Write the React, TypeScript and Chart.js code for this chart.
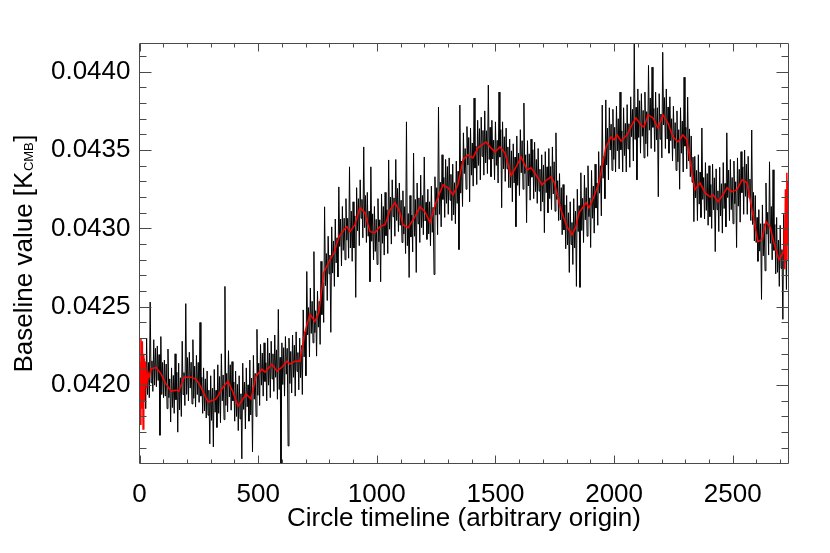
import React, { useEffect, useRef } from "react";
import { Chart, registerables } from "chart.js";

Chart.register(...registerables);

const FONT = "'Liberation Sans', Arial, Helvetica, sans-serif";

const xMin = 0;
const xMax = 2735;
const yMin = 0.0415;
const yMax = 0.04418;

const xMajorTicks = [0, 500, 1000, 1500, 2000, 2500];
const xMinorTicks = [100, 200, 300, 400, 600, 700, 800, 900, 1100, 1200, 1300, 1400, 1600, 1700, 1800, 1900, 2100, 2200, 2300, 2400, 2600, 2700];
const yMajorTicks = [0.042, 0.0425, 0.043, 0.0435, 0.044];
const yMinorTicks = [0.0416, 0.0417, 0.0418, 0.0419, 0.0421, 0.0422, 0.0423, 0.0424, 0.0426, 0.0427, 0.0428, 0.0429, 0.0431, 0.0432, 0.0433, 0.0434, 0.0436, 0.0437, 0.0438, 0.0439, 0.0441];

const xTitle = "Circle timeline (arbitrary origin)";
const yTitleMain = "Baseline value [K";
const yTitleSub = "CMB";
const yTitleEnd = "]";

// Smoothed baseline (red)
const redX = [
  0, 3, 6, 9, 12, 15, 18, 21, 25, 30, 35, 40,
  48, 70, 91, 112, 133, 154, 166, 188, 217, 238, 259, 289, 322, 352, 373, 394, 415, 428, 449, 470,
  491, 516, 529, 558, 579, 600, 622, 634, 655, 676, 697, 718, 739, 756, 777, 799, 820, 841, 862, 874,
  887, 908, 929, 950, 971, 992, 1013, 1035, 1056, 1077, 1098, 1110, 1132, 1161, 1182, 1203, 1224, 1249,
  1279, 1300, 1321, 1342, 1363, 1384, 1405, 1426, 1460, 1481, 1498, 1519, 1540, 1566, 1587, 1608, 1633,
  1650, 1671, 1696, 1717, 1734, 1747, 1776, 1801, 1823, 1839, 1852, 1882, 1894, 1915, 1936, 1966, 1987,
  2000, 2012, 2029, 2054, 2075, 2092, 2113, 2126, 2143, 2164, 2185, 2206, 2227, 2248, 2269, 2290, 2307,
  2328, 2341, 2362, 2383, 2404, 2417, 2438, 2459, 2476, 2497, 2518, 2539, 2560, 2585, 2606, 2623, 2640,
  2657, 2678, 2695, 2712,
  2716, 2719, 2722, 2725, 2728, 2731, 2734,
];
const redY = [
  0.04215, 0.04175, 0.0423, 0.04185, 0.04228, 0.04172, 0.0422, 0.0419, 0.04215, 0.04198, 0.04208, 0.04205,
  0.042102, 0.042114, 0.04207, 0.042006, 0.041962, 0.041968, 0.041962, 0.042051, 0.042051, 0.042038, 0.041987, 0.041892, 0.041911, 0.041987, 0.042025, 0.041955, 0.041866, 0.041892, 0.041943, 0.041911,
  0.042057, 0.042102, 0.042083, 0.042134, 0.042089, 0.042114, 0.042153, 0.042134, 0.042153, 0.042153, 0.042337, 0.042452, 0.042407, 0.042464, 0.042719, 0.042789, 0.042846, 0.042948, 0.042992, 0.043011,
  0.042979, 0.043024, 0.043132, 0.0431, 0.042979, 0.042973, 0.043011, 0.043024, 0.043119, 0.043164, 0.0431, 0.043024, 0.043005, 0.043075, 0.043138, 0.043107, 0.043037, 0.043164,
  0.043278, 0.043259, 0.043215, 0.043278, 0.043437, 0.043469, 0.04345, 0.043514, 0.043552, 0.043514, 0.043488, 0.04352, 0.043482, 0.043336, 0.043393, 0.043456, 0.043374,
  0.043387, 0.043342, 0.043278, 0.04331, 0.043329, 0.043297, 0.043119, 0.043011, 0.04296, 0.043011, 0.0431, 0.043164, 0.043132, 0.043202, 0.043291, 0.04352, 0.043584,
  0.043565, 0.043596, 0.043558, 0.043596, 0.04366, 0.043705, 0.04366, 0.043647, 0.043724, 0.043705, 0.043641, 0.043724, 0.043673, 0.043584, 0.043552, 0.043596, 0.043565,
  0.043355, 0.043247, 0.043291, 0.043228, 0.043202, 0.043215, 0.04317, 0.043215, 0.043259, 0.043234, 0.043247, 0.04331, 0.043291, 0.043088, 0.042916, 0.042929, 0.043043,
  0.043011, 0.042884, 0.042801, 0.042846,
  0.043, 0.04274, 0.04325, 0.0428, 0.043355, 0.0429, 0.0433,
];

// Raw baseline (black), read in bins of 15 units:
// upper excursion, inner low, inner high, lower excursion
const blackX = [
  0, 15, 30, 45, 60, 75, 90, 105, 120, 135,
  150, 165, 180, 195, 210, 225, 240, 255, 270, 285,
  300, 315, 330, 345, 360, 375, 390, 405, 420, 435,
  450, 465, 480, 495, 510, 525, 540, 555, 570, 585,
  600, 615, 630, 645, 660, 675, 690, 705, 720, 735,
  750, 765, 780, 795, 810, 825, 840, 855, 870, 885,
  900, 915, 930, 945, 960, 975, 990, 1005, 1020, 1035,
  1050, 1065, 1080, 1095, 1110, 1125, 1140, 1155, 1170, 1185,
  1200, 1215, 1230, 1245, 1260, 1275, 1290, 1305, 1320, 1335,
  1350, 1365, 1380, 1395, 1410, 1425, 1440, 1455, 1470, 1485,
  1500, 1515, 1530, 1545, 1560, 1575, 1590, 1605, 1620, 1635,
  1650, 1665, 1680, 1695, 1710, 1725, 1740, 1755, 1770, 1785,
  1800, 1815, 1830, 1845, 1860, 1875, 1890, 1905, 1920, 1935,
  1950, 1965, 1980, 1995, 2010, 2025, 2040, 2055, 2070, 2085,
  2100, 2115, 2130, 2145, 2160, 2175, 2190, 2205, 2220, 2235,
  2250, 2265, 2280, 2295, 2310, 2325, 2340, 2355, 2370, 2385,
  2400, 2415, 2430, 2445, 2460, 2475, 2490, 2505, 2520, 2535,
  2550, 2565, 2580, 2595, 2610, 2625, 2640, 2655, 2670, 2685,
  2700, 2715, 2730,
];
const blackHi = [
  0.04224, 0.04217, 0.0423, 0.04253, 0.04229, 0.04225, 0.04231, 0.04216, 0.04223, 0.04211,
  0.0422, 0.04214, 0.04228, 0.04252, 0.04221, 0.04229, 0.04219, 0.0424, 0.04211, 0.04209,
  0.04206, 0.0421, 0.04213, 0.0422, 0.04263, 0.04222, 0.04215, 0.04209, 0.04206, 0.04214,
  0.04211, 0.04216, 0.04219, 0.042356, 0.04226, 0.04227, 0.0423, 0.04228, 0.04232, 0.042483,
  0.04227, 0.04231, 0.0423, 0.04232, 0.04234, 0.0423, 0.04248, 0.042725, 0.04262, 0.042852,
  0.0426, 0.04279, 0.043138, 0.04295, 0.04301, 0.04306, 0.043265, 0.04314, 0.04319, 0.043393,
  0.04317, 0.04326, 0.04331, 0.04352, 0.04323, 0.043393, 0.04314, 0.04319, 0.04322, 0.04323,
  0.043437, 0.04331, 0.04344, 0.04329, 0.04324, 0.04368, 0.04321, 0.04348, 0.04329, 0.04334,
  0.043456, 0.04325, 0.04327, 0.04333, 0.043775, 0.04347, 0.04344, 0.04345, 0.04341, 0.04343,
  0.043787, 0.04361, 0.04365, 0.04364, 0.043832, 0.04369, 0.04371, 0.04375, 0.043915, 0.04369,
  0.04368, 0.04387, 0.04368, 0.04364, 0.04357, 0.04354, 0.04359, 0.04363, 0.0438, 0.04356,
  0.04357, 0.04355, 0.04351, 0.04347, 0.04349, 0.04351, 0.04352, 0.04361, 0.04335, 0.04328,
  0.04321, 0.04317, 0.04319, 0.04325, 0.043355, 0.04334, 0.0434, 0.04337, 0.04341, 0.04349,
  0.043787, 0.04382, 0.04377, 0.04376, 0.04378, 0.04387, 0.04377, 0.04379, 0.04384, 0.044182,
  0.04389, 0.04386, 0.04387, 0.04404, 0.044029, 0.04387, 0.04386, 0.044124, 0.04389, 0.04384,
  0.04378, 0.04375, 0.04377, 0.043965, 0.043838, 0.04359, 0.04346, 0.04347, 0.043641, 0.04342,
  0.0434, 0.04341, 0.04338, 0.04339, 0.04342, 0.04361, 0.04344, 0.04343, 0.04345, 0.04349,
  0.0435, 0.04346, 0.043628, 0.04321, 0.04312, 0.04315, 0.04329, 0.043425, 0.043374, 0.04307,
  0.04302, 0.04309, 0.04314,
];
const blackMidLo = [
  0.04191, 0.04196, 0.04194, 0.042015, 0.042, 0.04203, 0.04194, 0.04193, 0.04192, 0.041857,
  0.041907, 0.041842, 0.04194, 0.041941, 0.041981, 0.041916, 0.04194, 0.04193, 0.041835, 0.041808,
  0.041775, 0.041827, 0.04182, 0.0419, 0.04187, 0.041925, 0.0419, 0.0418, 0.041785, 0.041845,
  0.041862, 0.04181, 0.04191, 0.041935, 0.042, 0.042023, 0.042, 0.04204, 0.04205, 0.041972,
  0.042004, 0.04207, 0.04201, 0.04205, 0.042088, 0.042048, 0.04218, 0.04232, 0.04233, 0.042335,
  0.04237, 0.04245, 0.042635, 0.04271, 0.042715, 0.04278, 0.042885, 0.04286, 0.042925, 0.042875,
  0.042875, 0.042985, 0.043065, 0.043005, 0.04295, 0.042918, 0.042853, 0.042915, 0.042905, 0.042954,
  0.042995, 0.043075, 0.04305, 0.04302, 0.042964, 0.04289, 0.042945, 0.04295, 0.04303, 0.043005,
  0.043047, 0.042965, 0.042975, 0.043085, 0.04309, 0.043185, 0.04316, 0.04318, 0.043087, 0.04316,
  0.043225, 0.04335, 0.043405, 0.04334, 0.043385, 0.043402, 0.04346, 0.043418, 0.04344, 0.043443,
  0.043402, 0.043455, 0.04338, 0.04338, 0.04326, 0.04329, 0.043275, 0.043355, 0.04335, 0.043271,
  0.043327, 0.043235, 0.043238, 0.04317, 0.043228, 0.04319, 0.04322, 0.043185, 0.043055, 0.04299,
  0.042895, 0.042898, 0.042875, 0.04298, 0.042987, 0.043055, 0.043075, 0.043065, 0.04313, 0.043225,
  0.04332, 0.043405, 0.0435, 0.04344, 0.043495, 0.043502, 0.043465, 0.043508, 0.043585, 0.043568,
  0.04358, 0.043588, 0.04354, 0.043627, 0.043645, 0.043565, 0.04357, 0.04366, 0.04357, 0.04356,
  0.04351, 0.043425, 0.04348, 0.043525, 0.04343, 0.043295, 0.043195, 0.043155, 0.043185, 0.043115,
  0.043075, 0.043118, 0.04312, 0.04308, 0.043127, 0.043197, 0.04312, 0.043158, 0.043142, 0.043228,
  0.043205, 0.043195, 0.043025, 0.04291, 0.042855, 0.042825, 0.042963, 0.042905, 0.04286, 0.04272,
  0.042745, 0.042775, 0.04291,
];
const blackMidHi = [
  0.04207, 0.042135, 0.042145, 0.042155, 0.042235, 0.042195, 0.042145, 0.042135, 0.04204, 0.042062,
  0.042082, 0.042047, 0.04208, 0.042176, 0.042146, 0.042121, 0.042145, 0.04205, 0.04204, 0.041968,
  0.04198, 0.041967, 0.042055, 0.042065, 0.042075, 0.04213, 0.04202, 0.042005, 0.041945, 0.04202,
  0.042002, 0.042045, 0.042075, 0.04214, 0.042205, 0.042143, 0.042205, 0.0422, 0.042225, 0.042177,
  0.042239, 0.042235, 0.042215, 0.042255, 0.042208, 0.042253, 0.04234, 0.042495, 0.042535, 0.042475,
  0.042535, 0.042655, 0.04284, 0.04283, 0.04292, 0.04294, 0.04306, 0.043065, 0.043065, 0.04311,
  0.04308, 0.04319, 0.043185, 0.04321, 0.04311, 0.043093, 0.043058, 0.043055, 0.04314, 0.043119,
  0.0432, 0.043195, 0.043255, 0.04318, 0.043139, 0.043095, 0.043085, 0.043185, 0.043195, 0.04321,
  0.043167, 0.04317, 0.043135, 0.04326, 0.043295, 0.043325, 0.043395, 0.043345, 0.043292, 0.043365,
  0.04343, 0.04351, 0.04358, 0.043545, 0.043525, 0.043637, 0.043625, 0.043623, 0.043645, 0.043563,
  0.043562, 0.04363, 0.043585, 0.04352, 0.043495, 0.043455, 0.04348, 0.04356, 0.04347, 0.043476,
  0.043502, 0.04344, 0.043378, 0.043405, 0.043393, 0.043395, 0.043425, 0.043305, 0.04326, 0.04315,
  0.0431, 0.043038, 0.04311, 0.043145, 0.043192, 0.04326, 0.043195, 0.04327, 0.04329, 0.0434,
  0.04346, 0.04364, 0.043665, 0.043645, 0.0437, 0.043622, 0.04367, 0.043668, 0.04376, 0.043773,
  0.043815, 0.043753, 0.043745, 0.043832, 0.043765, 0.04377, 0.04373, 0.043835, 0.043775, 0.0437,
  0.043675, 0.04363, 0.043685, 0.043645, 0.043635, 0.043455, 0.04337, 0.04336, 0.043325, 0.04335,
  0.04328, 0.043323, 0.04324, 0.043285, 0.043287, 0.043372, 0.043325, 0.043298, 0.043377, 0.043393,
  0.04341, 0.043315, 0.04323, 0.04307, 0.04303, 0.04303, 0.043103, 0.04314, 0.043025, 0.042925,
  0.042865, 0.04298, 0.04307,
];
const blackLo = [
  0.04188, 0.04185, 0.04192, 0.04196, 0.04199, 0.04168, 0.04192, 0.04185, 0.041765, 0.04182,
  0.0417, 0.0418, 0.04187, 0.0419, 0.04188, 0.04186, 0.04189, 0.04182, 0.04179, 0.041625,
  0.041606, 0.04173, 0.04176, 0.04178, 0.04183, 0.04184, 0.04177, 0.04171, 0.04153, 0.04172,
  0.04177, 0.041574, 0.0418, 0.04187, 0.04193, 0.0419, 0.04192, 0.04196, 0.04191, 0.04148,
  0.04193, 0.041612, 0.04195, 0.04193, 0.04197, 0.04194, 0.04206, 0.04218, 0.04227, 0.042185,
  0.04226, 0.0424, 0.04254, 0.042337, 0.04263, 0.04269, 0.04276, 0.0428, 0.04281, 0.04279,
  0.04256, 0.04289, 0.04294, 0.04291, 0.04266, 0.0428, 0.04277, 0.04266, 0.04283, 0.04284,
  0.0429, 0.04295, 0.04298, 0.04291, 0.04284, 0.042687, 0.04285, 0.042719, 0.04291, 0.04296,
  0.04293, 0.04289, 0.042706, 0.04296, 0.04301, 0.04307, 0.04309, 0.04305, 0.04303, 0.042865,
  0.04314, 0.04325, 0.04317, 0.04327, 0.04328, 0.04331, 0.04334, 0.04335, 0.04333, 0.04331,
  0.04329, 0.043132, 0.0433, 0.04326, 0.04317, 0.043011, 0.04321, 0.04325, 0.043037, 0.04318,
  0.04319, 0.04316, 0.04311, 0.042973, 0.0431, 0.04312, 0.04311, 0.04305, 0.04296, 0.04287,
  0.042719, 0.04277, 0.04263, 0.042624, 0.04291, 0.04295, 0.042878, 0.04297, 0.04302, 0.04308,
  0.04319, 0.04331, 0.04337, 0.04336, 0.04338, 0.04336, 0.04336, 0.04339, 0.04343, 0.04331,
  0.04348, 0.04345, 0.04346, 0.04351, 0.04349, 0.043202, 0.04345, 0.04351, 0.04348, 0.04343,
  0.04337, 0.04325, 0.04336, 0.04338, 0.04333, 0.043043, 0.04305, 0.04307, 0.04306, 0.04302,
  0.043, 0.042852, 0.04298, 0.04297, 0.04301, 0.04305, 0.04303, 0.042878, 0.04304, 0.04309,
  0.04309, 0.04305, 0.04292, 0.04279, 0.042547, 0.04273, 0.04283, 0.0428, 0.04271, 0.04263,
  0.04242, 0.04261, 0.04271,
];

function buildBlack() {
  const pts: { x: number; y: number }[] = [];
  const n = Math.min(blackX.length, blackHi.length, blackMidLo.length, blackMidHi.length, blackLo.length);
  for (let i = 0; i < n; i++) {
    const x0 = blackX[i];
    pts.push({ x: x0, y: blackHi[i] });
    pts.push({ x: x0 + 3.75, y: blackMidLo[i] });
    pts.push({ x: x0 + 7.5, y: blackMidHi[i] });
    pts.push({ x: x0 + 11.25, y: blackLo[i] });
  }
  return pts;
}

function buildRed() {
  const n = Math.min(redX.length, redY.length);
  const pts: { x: number; y: number }[] = [];
  for (let i = 0; i < n; i++) pts.push({ x: redX[i], y: redY[i] });
  return pts;
}

const framePlugin = {
  id: "idlFrame",
  afterDatasetsDraw(chart: any) {
    const { ctx, chartArea: a, scales } = chart;
    const xs = scales.x;
    const ys = scales.y;
    ctx.save();
    ctx.strokeStyle = "#4a4a4a";
    ctx.lineWidth = 1;
    ctx.beginPath();
    ctx.rect(a.left, a.top, a.right - a.left, a.bottom - a.top);
    const xt = (v: number, len: number) => {
      const p = Math.round(xs.getPixelForValue(v)) + 0.5;
      ctx.moveTo(p, a.bottom);
      ctx.lineTo(p, a.bottom - len);
      ctx.moveTo(p, a.top);
      ctx.lineTo(p, a.top + len);
    };
    const yt = (v: number, len: number) => {
      const p = Math.round(ys.getPixelForValue(v)) + 0.5;
      ctx.moveTo(a.left, p);
      ctx.lineTo(a.left + len, p);
      ctx.moveTo(a.right, p);
      ctx.lineTo(a.right - len, p);
    };
    xMajorTicks.forEach((v) => xt(v, 8));
    xMinorTicks.forEach((v) => xt(v, 4));
    yMajorTicks.forEach((v) => yt(v, 12));
    yMinorTicks.forEach((v) => yt(v, 7));
    ctx.stroke();

    // y-axis title with subscript
    const cy = (a.top + a.bottom) / 2;
    ctx.fillStyle = "#000";
    ctx.textBaseline = "alphabetic";
    ctx.textAlign = "left";
    const big = `26px ${FONT}`;
    const small = `13px ${FONT}`;
    ctx.font = big;
    const w1 = ctx.measureText(yTitleMain).width;
    const w3 = ctx.measureText(yTitleEnd).width;
    ctx.font = small;
    const w2 = ctx.measureText(yTitleSub).width;
    const total = w1 + w2 + w3 + 1;
    ctx.translate(32, cy);
    ctx.rotate(-Math.PI / 2);
    let x0 = -total / 2;
    ctx.font = big;
    ctx.fillText(yTitleMain, x0, 0);
    x0 += w1 + 0.5;
    ctx.font = small;
    ctx.fillText(yTitleSub, x0, 1);
    x0 += w2 + 0.5;
    ctx.font = big;
    ctx.fillText(yTitleEnd, x0, 0);
    ctx.restore();
  },
};

export default function App() {
  const ref = useRef<HTMLCanvasElement | null>(null);
  useEffect(() => {
    if (!ref.current) return;
    const chart = new Chart(ref.current, {
      type: "line",
      data: {
        datasets: [
          {
            label: "smoothed",
            data: buildRed(),
            borderColor: "#ff0000",
            borderWidth: 1.5,
            pointRadius: 0,
            tension: 0,
            order: 1,
          },
          {
            label: "baseline",
            data: buildBlack(),
            borderColor: "#000000",
            borderWidth: 1,
            pointRadius: 0,
            tension: 0,
            order: 2,
          },
        ],
      },
      options: {
        animation: false,
        responsive: false,
        events: [],
        layout: { padding: { top: 43.5, right: 41.5, left: 0, bottom: 0 } },
        plugins: { legend: { display: false }, tooltip: { enabled: false } },
        scales: {
          x: {
            type: "linear",
            min: xMin,
            max: xMax,
            grid: { display: false, drawTicks: false },
            border: { display: false },
            afterBuildTicks: (s: any) => {
              s.ticks = xMajorTicks.map((v) => ({ value: v }));
            },
            afterFit: (s: any) => {
              s.height = 89.5;
            },
            ticks: {
              autoSkip: false,
              maxRotation: 0,
              padding: 16,
              color: "#000",
              font: { family: FONT, size: 26 },
              callback: (v: any) => String(v),
            },
            title: {
              display: true,
              text: xTitle,
              color: "#000",
              font: { family: FONT, size: 26 },
              padding: { top: 0, bottom: 19 },
            },
          },
          y: {
            type: "linear",
            min: yMin,
            max: yMax,
            grid: { display: false, drawTicks: false },
            border: { display: false },
            afterBuildTicks: (s: any) => {
              s.ticks = yMajorTicks.map((v) => ({ value: v }));
            },
            afterFit: (s: any) => {
              s.width = 139.5;
            },
            ticks: {
              padding: 9,
              color: "#000",
              font: { family: FONT, size: 26 },
              callback: (v: any) => Number(v).toFixed(4),
            },
          },
        },
      },
      plugins: [framePlugin],
    });
    return () => chart.destroy();
  }, []);
  return (
    <div style={{ position: "fixed", left: 0, top: 0, width: 830, height: 553, background: "#fff" }}>
      <canvas ref={ref} width={830} height={553} />
    </div>
  );
}
